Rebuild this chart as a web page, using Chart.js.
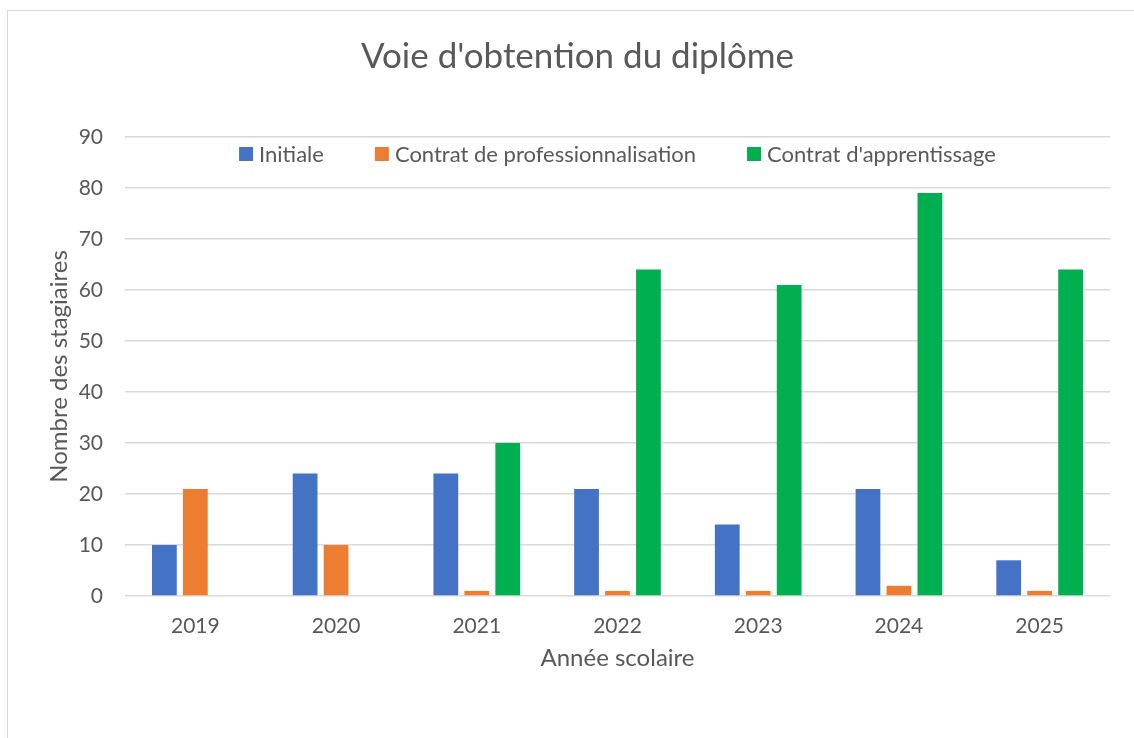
<!DOCTYPE html>
<html>
<head>
<meta charset="utf-8">
<script src="https://cdn.jsdelivr.net/npm/chart.js@4"></script>
<style>
  html, body { margin: 0; padding: 0; background: #fff; overflow: hidden; }
  #frame { position: absolute; left: 7px; top: 10px; width: 1200px; height: 800px; border: 1px solid #d9d9d9; }
  #wrap { position: absolute; left: 0; top: 0; width: 1134px; height: 738px; }
</style>
</head>
<body>
<div id="frame"></div>
<div id="wrap"><canvas id="myChart" width="1134" height="738"></canvas></div>
<script>
// Données du graphique
const annees = ['2019', '2020', '2021', '2022', '2023', '2024', '2025'];
const initiale = [10, 24, 24, 21, 14, 21, 7];
const professionnalisation = [21, 10, 1, 1, 1, 2, 1];
const apprentissage = [0, 0, 30, 64, 61, 79, 64];
const seriesNoms = ['Initiale', 'Contrat de professionnalisation', "Contrat d'apprentissage"];
const couleurs = ['#4472C4', '#ED7D31', '#00B050'];

const texte = '#595959';
const police = 'Lato, "Open Sans", sans-serif';

// Légende dessinée dans la zone du graphique (comme dans Excel)
const legendeInterne = {
    id: 'legendeInterne',
    afterDraw(chart) {
        const ctx = chart.ctx;
        const area = chart.chartArea;
        ctx.save();
        ctx.font = '22px ' + police;
        ctx.textBaseline = 'middle';
        const box = 14, gapTexte = 6, gapItem = 51;
        const largeurs = chart.data.datasets.map(d => ctx.measureText(d.label).width);
        let total = 0;
        largeurs.forEach((w, i) => { total += box + gapTexte + w + (i > 0 ? gapItem : 0); });
        let x = (area.left + area.right) / 2 - total / 2;
        const y = area.top + 17;
        chart.data.datasets.forEach((d, i) => {
            ctx.fillStyle = d.backgroundColor;
            ctx.fillRect(x, y - box / 2, box, box);
            ctx.fillStyle = texte;
            ctx.fillText(d.label, x + box + gapTexte, y + 1);
            x += box + gapTexte + largeurs[i] + gapItem;
        });
        ctx.restore();
    }
};

const ctx = document.getElementById('myChart').getContext('2d');
new Chart(ctx, {
    type: 'bar',
    data: {
        labels: annees,
        datasets: [
            { label: seriesNoms[0], data: initiale, backgroundColor: couleurs[0] },
            { label: seriesNoms[1], data: professionnalisation, backgroundColor: couleurs[1] },
            { label: seriesNoms[2], data: apprentissage, backgroundColor: couleurs[2] }
        ]
    },
    options: {
        responsive: false,
        animation: false,
        devicePixelRatio: 1,
        categoryPercentage: 0.66,
        barPercentage: 0.8,
        layout: { padding: { left: 45, right: 24, top: 12, bottom: 52 } },
        plugins: {
            legend: { display: false },
            tooltip: { enabled: false },
            title: {
                display: true,
                text: "Voie d'obtention du diplôme",
                color: texte,
                font: { family: police, size: 35, weight: 'normal' },
                padding: { top: 24, bottom: 59 }
            }
        },
        scales: {
            x: {
                grid: { display: false, drawTicks: false },
                border: { display: false },
                ticks: { color: texte, font: { family: police, size: 21 }, padding: 18 },
                title: {
                    display: true,
                    text: 'Année scolaire',
                    color: texte,
                    font: { family: police, size: 24 },
                    padding: { top: 0, bottom: 13 }
                },
                afterFit(scale) { scale.height = 90; }
            },
            y: {
                min: 0,
                max: 90,
                ticks: { stepSize: 10, color: texte, font: { family: police, size: 21 }, padding: 22 },
                grid: { color: '#d9d9d9', lineWidth: 1.5, drawTicks: false },
                border: { display: false },
                title: {
                    display: true,
                    text: 'Nombre des stagiaires',
                    color: texte,
                    font: { family: police, size: 24 },
                    padding: { top: 0, bottom: 0 }
                },
                afterFit(scale) { scale.width = 80; }
            }
        }
    },
    plugins: [legendeInterne]
});
</script>
</body>
</html>
